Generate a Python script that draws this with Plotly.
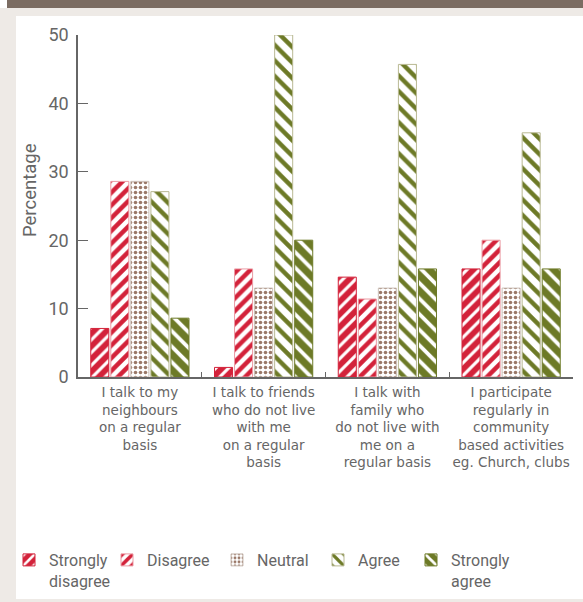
import plotly.graph_objects as go

categories = [
    "I talk to my<br>neighbours<br>on a regular<br>basis",
    "I talk to friends<br>who do not live<br>with me<br>on a regular<br>basis",
    "I talk with<br>family who<br>do not live with<br>me on a<br>regular basis",
    "I participate<br>regularly in<br>community<br>based activities<br>eg. Church, clubs",
]
series_names = ["Strongly<br>disagree", "Disagree", "Neutral", "Agree", "Strongly<br>agree"]
strongly_disagree = [7.1, 1.4, 14.6, 15.8]
disagree = [28.6, 15.8, 11.4, 20.0]
neutral = [28.6, 13.0, 13.0, 13.0]
agree = [27.1, 50.0, 45.7, 35.7]
strongly_agree = [8.6, 20.0, 15.8, 15.8]
y_ticks = [0, 10, 20, 30, 40, 50]

RED = "#d3223a"
OLIVE = "#6d7a27"
BROWN = "#9a7868"
TXT = "#666666"
FONT = "Roboto"

styles = [
    dict(shape="/", bgcolor=RED, fgcolor="white", size=9, solidity=0.35, line="#d3223a"),
    dict(shape="/", bgcolor="white", fgcolor=RED, size=9, solidity=0.5, line="#eb9aa3"),
    dict(shape=".", bgcolor="white", fgcolor=BROWN, size=5, solidity=0.4, line="#cbbfb7"),
    dict(shape="\\", bgcolor="white", fgcolor=OLIVE, size=11, solidity=0.4, line="#b9b993"),
    dict(shape="\\", bgcolor=OLIVE, fgcolor="white", size=11, solidity=0.35, line=OLIVE),
]
values = [strongly_disagree, disagree, neutral, agree, strongly_agree]
legend_ids = ["legend", "legend2", "legend3", "legend4", "legend5"]
legend_px = [9, 107, 217, 318, 411]

W, H = 583, 602
L, R, T, B = 78, 10, 35, 225
pw, ph = W - L - R, H - T - B

fig = go.Figure()
for name, vals, st, lid in zip(series_names, values, styles, legend_ids):
    fig.add_trace(go.Bar(
        x=categories, y=vals, name=name, legend=lid,
        marker=dict(
            color=st["bgcolor"],
            line=dict(color=st["line"], width=1),
            pattern=dict(shape=st["shape"], bgcolor=st["bgcolor"], fgcolor=st["fgcolor"],
                         size=st["size"], solidity=st["solidity"], fillmode="replace"),
        ),
    ))


def px(x):
    return (x - L) / pw


def py(y):
    return (H - B - y) / ph


shapes = [
    dict(type="rect", xref="paper", yref="paper", x0=px(16), x1=px(W), y0=py(599), y1=py(16),
         fillcolor="white", line=dict(width=0), layer="below"),
    dict(type="rect", xref="paper", yref="paper", x0=px(7), x1=px(W), y0=py(8), y1=py(0),
         fillcolor="#7b6c62", line=dict(width=0), layer="below"),
    dict(type="rect", xref="paper", yref="paper", x0=px(0), x1=px(7), y0=py(8), y1=py(0),
         fillcolor="white", line=dict(width=0), layer="below"),
]

legends = {}
for lid, lx in zip(legend_ids, legend_px):
    legends[lid] = dict(
        orientation="v", xref="container", yref="container",
        x=lx / W, y=(H - 543) / H, xanchor="left", yanchor="top",
        valign="top", font=dict(size=16, color=TXT, family=FONT),
        bgcolor="rgba(0,0,0,0)", itemwidth=30,
    )

fig.update_layout(
    width=W, height=H,
    margin=dict(l=L, r=R, t=T, b=B, autoexpand=False),
    paper_bgcolor="#eeeae6",
    plot_bgcolor="rgba(0,0,0,0)",
    barmode="group", bargap=0.19, bargroupgap=0.1,
    font=dict(family=FONT, color=TXT),
    shapes=shapes,
    showlegend=True,
    **legends,
    xaxis=dict(
        showline=True, linecolor="#666666", linewidth=1.5,
        ticks="inside", tickson="boundaries", ticklen=5, tickcolor="#666666",
        ticklabelstandoff=2,
        tickfont=dict(size=13.5, color=TXT, family="DejaVu Sans"), tickangle=0,
        showgrid=False, zeroline=False,
    ),
    yaxis=dict(
        range=[0, 50], tickvals=y_ticks, showline=True, linecolor="#666666", linewidth=1.5,
        ticks="inside", ticklen=10, tickcolor="#666666", ticklabelstandoff=4,
        tickfont=dict(size=18, color=TXT, family=FONT),
        showgrid=False, zeroline=False,
    ),
    annotations=[dict(
        text="Percentage", xref="paper", yref="paper", x=px(30), y=py(190),
        xanchor="center", yanchor="middle", textangle=-90, showarrow=False,
        font=dict(size=18.5, color=TXT, family=FONT),
    )],
)

fig.write_html("out.html")
